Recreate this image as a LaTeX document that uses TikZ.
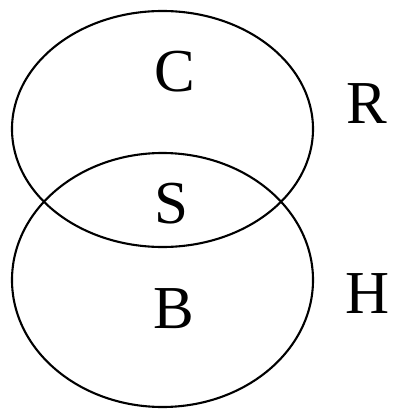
\documentclass[tikz,border=0pt]{standalone}
\usepackage{fontspec}
\setmainfont{Liberation Serif}
\usetikzlibrary{positioning}

\begin{document}
\begin{tikzpicture}[x=1pt, y=-1pt, thick,
                    set/.style={draw=black, line width=2.1pt},
                    letter/.style={inner sep=0pt, font=\fontsize{61}{72}\selectfont}]
    \useasboundingbox (0,0) rectangle (394,409);

    % Sets
    \draw[set] (162.5,129) ellipse [x radius=150.5pt, y radius=118pt];
    \draw[set] (162.5,280) ellipse [x radius=150.5pt, y radius=127pt];

    % Labels
    \node[letter] (C) at (175,72) {C};
    \node[letter] (S) at (171,204) {S};
    \node[letter] (B) at (174,309) {B};
    \node[letter] (R) at (367,104) {R};
    \node[letter] (H) at (368,294) {H};

\end{tikzpicture}
\end{document}
